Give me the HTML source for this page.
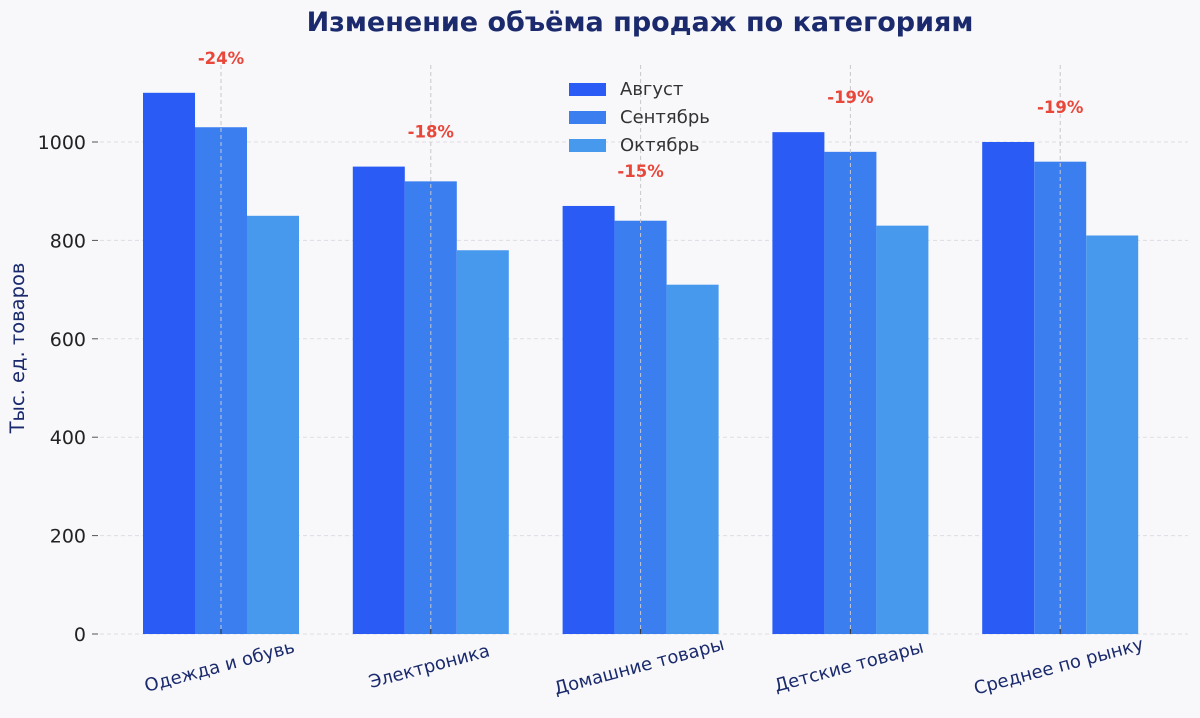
<!DOCTYPE html>
<html><head><meta charset="utf-8">
<style>
html,body{margin:0;padding:0;background:#f8f8fb;}
svg{display:block;font-family:"DejaVu Sans","Liberation Sans",sans-serif;}
</style></head>
<body>
<svg id="chart" width="1200" height="718" viewBox="0 0 1200 718">
<rect width="1200" height="718" fill="#f8f8fb"/>
<text x="640" y="31" text-anchor="middle" font-size="27" font-weight="bold" fill="#1a2a6c">Изменение объёма продаж по категориям</text>
<text transform="translate(24,348) rotate(-90)" text-anchor="middle" font-size="19.5" fill="#1a2a6c">Тыс. ед. товаров</text>
<g id="grid"></g><g id="bars"></g><g id="vlines"></g><g id="labels"></g>
<g>
<rect x="569" y="83" width="37" height="13" fill="#2a5cf5"/>
<text x="620" y="95" font-size="18" fill="#333">Август</text>
<rect x="569" y="111" width="37" height="13" fill="#3a7ef0"/>
<text x="620" y="123" font-size="18" fill="#333">Сентябрь</text>
<rect x="569" y="139" width="37" height="13" fill="#4799ee"/>
<text x="620" y="151" font-size="18" fill="#333">Октябрь</text>
</g>
</svg>
<script>
const categories=["Одежда и обувь","Электроника","Домашние товары","Детские товары","Среднее по рынку"];
const august=[1100,950,870,1020,1000];
const september=[1030,920,840,980,960];
const october=[850,780,710,830,810];
const changeLabels=["-24%","-18%","-15%","-19%","-19%"];
const yTicks=[0,200,400,600,800,1000];

const NS="http://www.w3.org/2000/svg";
const y0=634, yScale=0.492;
const y=v=>y0-v*yScale;
const x=i=>221+i*209.8;
const bw=52;
function mk(tag,attrs,parent){const e=document.createElementNS(NS,tag);for(const k in attrs)e.setAttribute(k,attrs[k]);parent.appendChild(e);return e;}
const grid=document.getElementById('grid'),bars=document.getElementById('bars'),vl=document.getElementById('vlines'),lb=document.getElementById('labels');
yTicks.forEach(t=>{
  const l=mk('line',{x1:100,x2:1188,y1:y(t),y2:y(t),stroke:'#dddde3','stroke-dasharray':'4,3','stroke-width':1},grid);
  
  
  const tk=mk('line',{x1:92,x2:98,y1:y(t),y2:y(t),stroke:'#555','stroke-width':1},grid);
  
  
  const tx=mk('text',{x:86,y:y(t)+7,'text-anchor':'end','font-size':19,fill:'#222'},grid);
  tx.textContent=t;
  
  
});
const series=[[august,'#2a5cf5','august'],[september,'#3a7ef0','september'],[october,'#4799ee','october']];
categories.forEach((c,i)=>{
  series.forEach(([arr,col,nm],j)=>{
    const r=mk('rect',{x:x(i)-78+j*bw,y:y(arr[i]),width:bw,height:arr[i]*yScale,fill:col},bars);
    
    
  });
  const v=mk('line',{x1:x(i),x2:x(i),y1:65,y2:y0,stroke:'#c8c8cc','stroke-dasharray':'4,3','stroke-width':1},vl);
  
  
  const tk=mk('line',{x1:x(i),x2:x(i),y1:y0-5,y2:y0,stroke:'#333','stroke-width':1},vl);
  
  
  const mx=Math.max(august[i],september[i],october[i]);
  const p=mk('text',{x:x(i),y:y(mx)-29,'text-anchor':'middle','font-size':16.5,'font-weight':'bold',fill:'#e8473a'},lb);
  p.textContent=changeLabels[i];
  
  
  const t=mk('text',{transform:`translate(${x(i)},${y0+38}) rotate(-15)`,'text-anchor':'middle','font-size':18,fill:'#1a2a6c'},lb);
  t.textContent=c;
  
  
});
</script>
</body></html>
